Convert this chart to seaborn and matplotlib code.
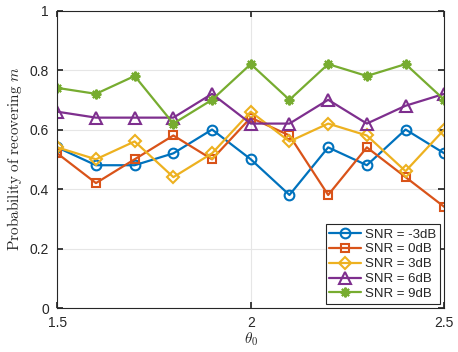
import matplotlib
matplotlib.use('Agg')
import matplotlib.pyplot as plt
import seaborn as sns
import pandas as pd

# --- Datos ---
theta0 = [1.5, 1.6, 1.7, 1.8, 1.9, 2.0, 2.1, 2.2, 2.3, 2.4, 2.5]
snr_m3 = [0.54, 0.48, 0.48, 0.52, 0.60, 0.50, 0.38, 0.54, 0.48, 0.60, 0.52]
snr_0 = [0.52, 0.42, 0.50, 0.58, 0.50, 0.64, 0.58, 0.38, 0.54, 0.44, 0.34]
snr_3 = [0.54, 0.50, 0.56, 0.44, 0.52, 0.66, 0.56, 0.62, 0.58, 0.46, 0.60]
snr_6 = [0.66, 0.64, 0.64, 0.64, 0.72, 0.62, 0.62, 0.70, 0.62, 0.68, 0.72]
snr_9 = [0.74, 0.72, 0.78, 0.62, 0.70, 0.82, 0.70, 0.82, 0.78, 0.82, 0.70]

etiquetas = ['SNR = -3dB', 'SNR = 0dB', 'SNR = 3dB', 'SNR = 6dB', 'SNR = 9dB']
series = [snr_m3, snr_0, snr_3, snr_6, snr_9]
colores = ['#0072BD', '#D95319', '#EDB120', '#7E2F8E', '#77AC30']
marcadores = ['o', 's', 'D', '^', (8, 2, 0)]
tamanos = [7, 6, 6, 8, 7]

df = pd.concat([pd.DataFrame({'theta0': theta0, 'prob': s, 'serie': e})
                for s, e in zip(series, etiquetas)], ignore_index=True)

# --- Estilo ---
sns.set_theme(style='whitegrid')
plt.rcParams['font.family'] = ['Liberation Sans', 'DejaVu Sans']
plt.rcParams['mathtext.fontset'] = 'cm'

fig, ax = plt.subplots(figsize=(4.58, 3.52), dpi=100)

for e, c, m, ms in zip(etiquetas, colores, marcadores, tamanos):
    sub = df[df['serie'] == e]
    sns.lineplot(data=sub, x='theta0', y='prob', ax=ax, color=c, linewidth=1.6,
                 marker=m, markersize=ms, markerfacecolor='none',
                 markeredgecolor=c, markeredgewidth=1.5, label=e)

ax.set_xlim(1.5, 2.5)
ax.set_ylim(0, 1)
ax.set_xticks([1.5, 2, 2.5])
ax.set_xticklabels(['1.5', '2', '2.5'])
ax.set_yticks([0, 0.2, 0.4, 0.6, 0.8, 1])
ax.set_yticklabels(['0', '0.2', '0.4', '0.6', '0.8', '1'])
ax.tick_params(direction='in', length=4, labelsize=10, colors='#262626',
               top=True, right=True, bottom=True, left=True, pad=6)
ax.grid(True, color='#e6e6e6', linewidth=0.8)
for sp in ax.spines.values():
    sp.set_color('#262626')
    sp.set_linewidth(0.8)

ax.set_xlabel(r'$\theta_0$', fontsize=11, color='#262626', labelpad=0)
ax.set_ylabel(r'$\mathrm{Probability\ of\ recovering}\ m$', fontsize=11,
              color='#262626', labelpad=4)

leg = ax.legend(loc='lower right', fontsize=9.5, frameon=True, fancybox=False,
                edgecolor='#262626', framealpha=1, borderpad=0.3,
                labelspacing=0.2, handlelength=2.4, handletextpad=0.3,
                borderaxespad=0.3)
leg.get_frame().set_linewidth(0.8)

fig.subplots_adjust(left=0.125, right=0.97, bottom=0.125, top=0.97)
fig.savefig('out.png', dpi=100)
